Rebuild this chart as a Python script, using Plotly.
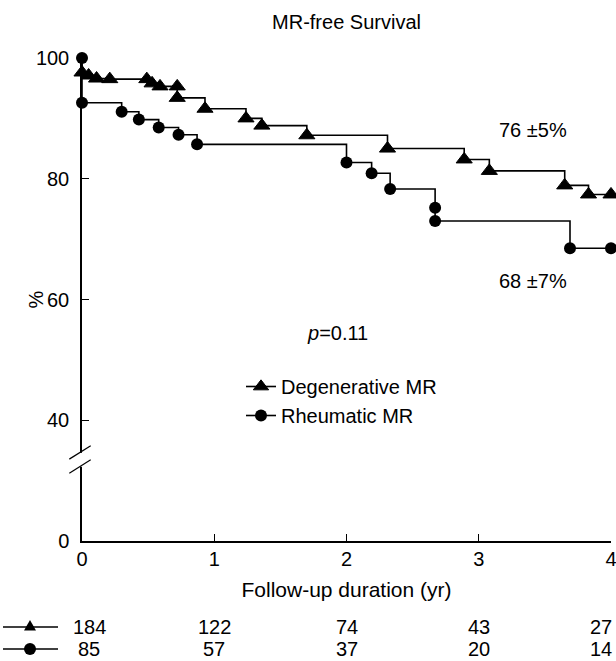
import plotly.graph_objects as go

# ---------------- data ----------------
deg_time = [0, 0, 0.05, 0.11, 0.21, 0.49, 0.53, 0.59, 0.72, 0.72, 0.93, 1.24, 1.36, 1.70, 2.31, 2.89, 3.08, 3.65, 3.83, 4.0]
deg_surv = [100, 97.6, 97.1, 96.6, 96.5, 96.5, 95.8, 95.3, 95.3, 93.4, 91.6, 90.0, 88.8, 87.2, 85.0, 83.2, 81.3, 78.9, 77.4, 77.4]

rhe_time = [0, 0, 0.30, 0.43, 0.58, 0.73, 0.87, 2.00, 2.19, 2.33, 2.67, 2.67, 3.69, 4.0]
rhe_surv = [100, 92.6, 91.1, 89.8, 88.5, 87.3, 85.7, 82.7, 80.9, 78.3, 75.2, 73.0, 68.5, 68.5]

risk_times = [0, 1, 2, 3, 4]
risk_deg = [184, 122, 74, 43, 27]
risk_rhe = [85, 57, 37, 20, 14]

x_ticks = [0, 1, 2, 3, 4]
y_tickvals = [20, 40, 60, 80, 100]     # 20 is the broken-axis position of 0
y_ticktext = ["0", "40", "60", "80", "100"]

FONT = "Liberation Sans, Arial, sans-serif"
FS = 20

fig = go.Figure()

deg_sizes = [0] + [14] * (len(deg_time) - 1)
fig.add_trace(go.Scatter(
    x=deg_time, y=deg_surv, mode="lines+markers", name="Degenerative MR",
    line=dict(color="black", width=1.6, shape="hv"),
    marker=dict(symbol="triangle-up", size=deg_sizes, color="#000000", opacity=1,
                line=dict(color="#000000", width=1)),
    cliponaxis=False))
fig.add_trace(go.Scatter(
    x=rhe_time, y=rhe_surv, mode="lines+markers", name="Rheumatic MR",
    line=dict(color="black", width=1.6, shape="hv"),
    marker=dict(symbol="circle", size=12, color="#000000", opacity=1,
                line=dict(color="#000000", width=0)),
    cliponaxis=False))

L, R, T, B = 82, 5, 58, 120
W, H = 616, 661
pw, ph = W - L - R, H - T - B

def px2paperx(px):
    return (px - L) / pw

def py2papery(py):
    return (H - B - py) / ph

annotations = [
    dict(x=3.41, y=88.0, xref="x", yref="y", text="76 ±5%", showarrow=False,
         font=dict(size=FS, family=FONT, color="black")),
    dict(x=3.41, y=63.1, xref="x", yref="y", text="68 ±7%", showarrow=False,
         font=dict(size=FS, family=FONT, color="black")),
    dict(x=1.93, y=54.4, xref="x", yref="y", text="<i>p</i>=0.11", showarrow=False,
         font=dict(size=FS, family=FONT, color="black")),
    dict(x=px2paperx(35), y=60, xref="paper", yref="y", text="%", showarrow=False,
         textangle=-90, xanchor="center", yanchor="middle",
         font=dict(size=FS, family=FONT, color="black")),
]
row_y = [py2papery(627), py2papery(649)]
for t, a, b in zip(risk_times, risk_deg, risk_rhe):
    if t == 0:
        shift, anchor = 7, "center"
    elif t == risk_times[-1]:
        shift, anchor = 3, "right"
    else:
        shift, anchor = 0, "center"
    annotations.append(dict(x=t, y=row_y[0], xref="x", yref="paper", text=str(a),
                            showarrow=False, xshift=shift, xanchor=anchor, yanchor="middle",
                            font=dict(size=FS, family=FONT, color="black")))
    annotations.append(dict(x=t, y=row_y[1], xref="x", yref="paper", text=str(b),
                            showarrow=False, xshift=shift, xanchor=anchor, yanchor="middle",
                            font=dict(size=FS, family=FONT, color="black")))

shapes = []
# axis break: white gap + two slashes
shapes.append(dict(type="line", xref="paper", yref="y", x0=0, x1=0, y0=32.3, y1=34.6,
                   line=dict(color="white", width=4), layer="above"))
for y0, y1 in [(33.56, 35.76), (31.24, 33.44)]:
    shapes.append(dict(type="line", xref="paper", yref="y",
                       x0=px2paperx(69.3), x1=px2paperx(90.7), y0=y0, y1=y1,
                       line=dict(color="black", width=1.2), layer="above"))
# risk table keys
for ry in row_y:
    shapes.append(dict(type="line", xref="paper", yref="paper",
                       x0=px2paperx(3), x1=px2paperx(58), y0=ry, y1=ry,
                       line=dict(color="black", width=1.6)))
mx = px2paperx(30)
shapes.append(dict(type="path", xref="paper", yref="paper", xsizemode="pixel",
                   ysizemode="pixel", xanchor=mx, yanchor=row_y[0],
                   path="M -6 -3.5 L 6 -3.5 L 0 7 Z", fillcolor="black",
                   line=dict(color="black", width=0)))
shapes.append(dict(type="circle", xref="paper", yref="paper", xsizemode="pixel",
                   ysizemode="pixel", xanchor=mx, yanchor=row_y[1],
                   x0=-6, x1=6, y0=-6, y1=6, fillcolor="black",
                   line=dict(color="black", width=0)))

fig.update_layout(
    width=W, height=H, margin=dict(l=L, r=R, t=T, b=B, pad=0, autoexpand=False),
    paper_bgcolor="white", plot_bgcolor="white",
    font=dict(family=FONT, size=FS, color="black"),
    title=dict(text="MR-free Survival", x=(L + pw / 2) / W, xanchor="center",
               y=1 - 22 / H, yanchor="middle", yref="container",
               font=dict(size=FS, family=FONT, color="black")),
    xaxis=dict(range=[0, 4], tickvals=x_ticks, ticks="inside", ticklen=7,
               tickcolor="black", tickwidth=1.2, showline=True, linecolor="black",
               linewidth=1.5, showgrid=False, zeroline=False, automargin=False,
               ticklabelstandoff=-1, ticklabeloverflow="allow",
               title=dict(text="Follow-up duration (yr)", standoff=14,
                          font=dict(size=FS + 1, family=FONT, color="black"))),
    yaxis=dict(range=[20, 100], tickvals=y_tickvals, ticktext=y_ticktext,
               ticks="inside", ticklen=7, tickcolor="black", tickwidth=1.2,
               showline=True, linecolor="black", linewidth=1.5, showgrid=False,
               zeroline=False, ticklabelstandoff=7, automargin=False),
    legend=dict(x=px2paperx(241), y=py2papery(367), xanchor="left", yanchor="top",
                bgcolor="rgba(0,0,0,0)", font=dict(size=FS, family=FONT, color="black"),
                tracegroupgap=0),
    annotations=annotations, shapes=shapes,
)

fig.write_html("out.html", config={"displayModeBar": False},
               post_script="document.body.style.margin='0px';document.body.style.overflow='hidden';")
